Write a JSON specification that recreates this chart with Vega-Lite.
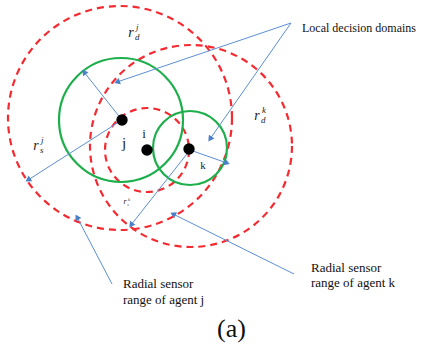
{
  "$schema": "https://vega.github.io/schema/vega-lite/v6.json",
  "width": 422,
  "height": 345,
  "padding": 0,
  "autosize": {"type": "none"},
  "background": "white",
  "config": {"view": {"stroke": null}},
  "datasets": {
    "circles": [
      {"name": "sensor j", "cx": 120, "cy": 118, "r": 112, "kind": "sensor"},
      {"name": "sensor k", "cx": 191, "cy": 146, "r": 101, "kind": "sensor"},
      {"name": "sensor i", "cx": 147, "cy": 150, "r": 42, "kind": "sensor"},
      {"name": "domain j", "cx": 121, "cy": 120, "r": 62, "kind": "domain"},
      {"name": "domain k", "cx": 190, "cy": 148, "r": 37, "kind": "domain"}
    ],
    "arrows": [
      {"x": 122, "y": 120, "x2": 84, "y2": 72, "angle": -38.4},
      {"x": 122, "y": 120, "x2": 28, "y2": 180, "angle": -122.5},
      {"x": 291, "y": 23, "x2": 117, "y2": 82, "angle": -108.7},
      {"x": 291, "y": 23, "x2": 210, "y2": 139, "angle": -145.1},
      {"x": 190, "y": 150, "x2": 227, "y2": 163, "angle": 109.4},
      {"x": 190, "y": 150, "x2": 131, "y2": 225, "angle": -141.8},
      {"x": 112, "y": 284, "x2": 77, "y2": 217, "angle": -27.6},
      {"x": 294, "y": 274, "x2": 173, "y2": 214, "angle": -63.6}
    ],
    "agents": [
      {"agent": "j", "x": 122, "y": 120, "lx": 124, "ly": 143, "fs": 15},
      {"agent": "i", "x": 147, "y": 150, "lx": 144, "ly": 134, "fs": 13},
      {"agent": "k", "x": 189, "y": 149, "lx": 203, "ly": 166, "fs": 11}
    ],
    "radii": [
      {"sub": "d", "sup": "j", "x": 131, "y": 33, "fs": 14},
      {"sub": "s", "sup": "j", "x": 36, "y": 146, "fs": 14},
      {"sub": "d", "sup": "k", "x": 257, "y": 116, "fs": 14},
      {"sub": "s", "sup": "k", "x": 125, "y": 202, "fs": 8}
    ],
    "notes": [
      {"text": "Local decision domains", "x": 302, "y": 28, "fs": 12},
      {"text": "Radial sensor", "x": 123, "y": 284, "fs": 13},
      {"text": "range of agent j", "x": 123, "y": 300, "fs": 13},
      {"text": "Radial sensor", "x": 311, "y": 268, "fs": 13},
      {"text": "range of agent k", "x": 311, "y": 283, "fs": 13},
      {"text": "(a)", "x": 217, "y": 329, "fs": 26}
    ]
  },
  "layer": [
    {
      "data": {"name": "circles"},
      "mark": {"type": "point", "filled": false, "strokeWidth": 2.2, "strokeDash": [7, 5], "stroke": "#f52a30", "opacity": 1, "shape": "circle"},
      "transform": [{"filter": "datum.kind === 'sensor'"}],
      "encoding": {
        "x": {"field": "cx", "type": "quantitative", "scale": {"domain": [0, 422], "nice": false, "zero": false}, "axis": null},
        "y": {"field": "cy", "type": "quantitative", "scale": {"domain": [0, 345], "nice": false, "zero": false, "reverse": true}, "axis": null},
        "size": {"field": "r", "type": "quantitative", "scale": {"type": "pow", "exponent": 2, "domain": [0, 100], "range": [0, 40000]}, "legend": null}
      }
    },
    {
      "data": {"name": "circles"},
      "mark": {"type": "point", "filled": false, "strokeWidth": 2.2, "stroke": "#1daf4b", "opacity": 1, "shape": "circle"},
      "transform": [{"filter": "datum.kind === 'domain'"}],
      "encoding": {
        "x": {"field": "cx", "type": "quantitative", "axis": null},
        "y": {"field": "cy", "type": "quantitative", "axis": null},
        "size": {"field": "r", "type": "quantitative", "legend": null}
      }
    },
    {
      "data": {"name": "arrows"},
      "mark": {"type": "rule", "stroke": "#5b8fd3", "strokeWidth": 1},
      "encoding": {
        "x": {"field": "x", "type": "quantitative", "axis": null},
        "y": {"field": "y", "type": "quantitative", "axis": null},
        "x2": {"field": "x2"},
        "y2": {"field": "y2"}
      }
    },
    {
      "data": {"name": "arrows"},
      "mark": {"type": "point", "shape": "triangle-up", "filled": true, "fill": "#4a80c8", "size": 45, "opacity": 1},
      "encoding": {
        "x": {"field": "x2", "type": "quantitative", "axis": null},
        "y": {"field": "y2", "type": "quantitative", "axis": null},
        "angle": {"field": "angle", "type": "quantitative", "scale": null}
      }
    },
    {
      "data": {"name": "agents"},
      "mark": {"type": "point", "shape": "circle", "filled": true, "fill": "black", "size": 130, "opacity": 1},
      "encoding": {
        "x": {"field": "x", "type": "quantitative", "axis": null},
        "y": {"field": "y", "type": "quantitative", "axis": null}
      }
    },
    {
      "data": {"name": "agents"},
      "mark": {"type": "text", "font": "Liberation Serif", "color": "#222", "align": "center", "baseline": "middle"},
      "encoding": {
        "x": {"field": "lx", "type": "quantitative", "axis": null},
        "y": {"field": "ly", "type": "quantitative", "axis": null},
        "text": {"field": "agent"},
        "size": {"field": "fs", "type": "quantitative", "scale": null}
      }
    },
    {
      "data": {"name": "radii"},
      "mark": {"type": "text", "font": "Liberation Serif", "fontStyle": "italic", "color": "#222", "align": "center", "baseline": "middle", "text": "r"},
      "encoding": {
        "x": {"field": "x", "type": "quantitative", "axis": null},
        "y": {"field": "y", "type": "quantitative", "axis": null},
        "size": {"field": "fs", "type": "quantitative", "scale": null}
      }
    },
    {
      "data": {"name": "radii"},
      "transform": [{"filter": "datum.fs > 10"}],
      "mark": {"type": "text", "font": "Liberation Serif", "fontStyle": "italic", "color": "#222", "align": "left", "baseline": "middle", "dx": 4, "dy": 4, "fontSize": 9},
      "encoding": {
        "x": {"field": "x", "type": "quantitative", "axis": null},
        "y": {"field": "y", "type": "quantitative", "axis": null},
        "text": {"field": "sub"}
      }
    },
    {
      "data": {"name": "radii"},
      "transform": [{"filter": "datum.fs > 10"}],
      "mark": {"type": "text", "font": "Liberation Serif", "fontStyle": "italic", "color": "#222", "align": "left", "baseline": "middle", "dx": 5, "dy": -6, "fontSize": 9},
      "encoding": {
        "x": {"field": "x", "type": "quantitative", "axis": null},
        "y": {"field": "y", "type": "quantitative", "axis": null},
        "text": {"field": "sup"}
      }
    },
    {
      "data": {"name": "radii"},
      "transform": [{"filter": "datum.fs <= 10"}],
      "mark": {"type": "text", "font": "Liberation Serif", "fontStyle": "italic", "color": "#444", "align": "left", "baseline": "middle", "dx": 2, "dy": 2, "fontSize": 5},
      "encoding": {
        "x": {"field": "x", "type": "quantitative", "axis": null},
        "y": {"field": "y", "type": "quantitative", "axis": null},
        "text": {"field": "sub"}
      }
    },
    {
      "data": {"name": "radii"},
      "transform": [{"filter": "datum.fs <= 10"}],
      "mark": {"type": "text", "font": "Liberation Serif", "fontStyle": "italic", "color": "#444", "align": "left", "baseline": "middle", "dx": 3, "dy": -3, "fontSize": 5},
      "encoding": {
        "x": {"field": "x", "type": "quantitative", "axis": null},
        "y": {"field": "y", "type": "quantitative", "axis": null},
        "text": {"field": "sup"}
      }
    },
    {
      "data": {"name": "notes"},
      "mark": {"type": "text", "font": "Liberation Serif", "color": "#111", "align": "left", "baseline": "middle"},
      "encoding": {
        "x": {"field": "x", "type": "quantitative", "axis": null},
        "y": {"field": "y", "type": "quantitative", "axis": null},
        "text": {"field": "text"},
        "size": {"field": "fs", "type": "quantitative", "scale": null}
      }
    }
  ]
}
